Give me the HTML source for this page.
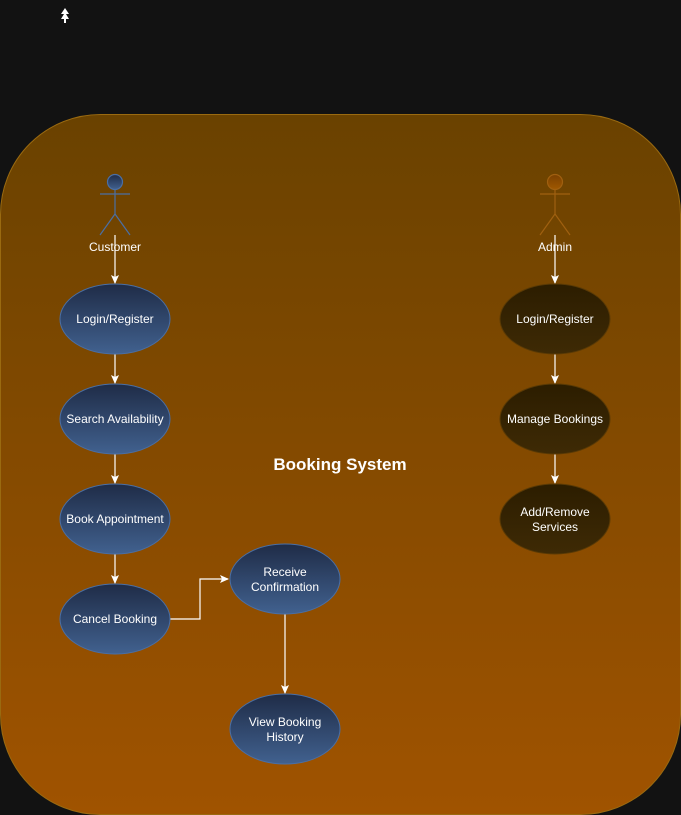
<!DOCTYPE html>
<html><head><meta charset="utf-8"><style>
html,body{margin:0;padding:0;background:#121212;overflow:hidden;width:681px;height:815px;}
svg{display:block;font-family:"Liberation Sans",Arial,sans-serif;}
</style></head><body>
<svg width="681" height="815" viewBox="0 0 681 815" xmlns="http://www.w3.org/2000/svg">
<defs>
<linearGradient id="bg" x1="0" y1="0" x2="0" y2="1"><stop offset="0" stop-color="#6a4200"/><stop offset="1" stop-color="#a05300"/></linearGradient>
<linearGradient id="bl" x1="0" y1="0" x2="0" y2="1"><stop offset="0" stop-color="#1f2c47"/><stop offset="1" stop-color="#41618f"/></linearGradient>
<linearGradient id="br" x1="0" y1="0" x2="0" y2="1"><stop offset="0" stop-color="#2c1d00"/><stop offset="1" stop-color="#3e2a05"/></linearGradient>
<linearGradient id="hb" x1="0" y1="0" x2="0" y2="1"><stop offset="0" stop-color="#1f2c47"/><stop offset="1" stop-color="#41618f"/></linearGradient>
<linearGradient id="ho" x1="0" y1="0" x2="0" y2="1"><stop offset="0" stop-color="#7a4000"/><stop offset="1" stop-color="#a05800"/></linearGradient>
<marker id="a" markerWidth="10" markerHeight="10" refX="8" refY="5" orient="auto" markerUnits="userSpaceOnUse"><path d="M0,1 L9,5 L0,9 L2,5 Z" fill="#fff"/></marker>
</defs>
<rect width="681" height="815" fill="#121212"/>
<path d="M65,8 L69,14 L66,14 L69,19 L66,19 L66,23 L64,23 L64,19 L61,19 L64,14 L61,14 Z" fill="#fff"/>
<rect x="0.5" y="114.5" width="680" height="700" rx="100" fill="url(#bg)" stroke="#9a6a10"/>
<g stroke="#4a6fa5" stroke-width="1.2" fill="none">
<circle cx="115" cy="182" r="7.5" fill="url(#hb)"/>
<line x1="100" y1="194" x2="130" y2="194"/><line x1="115" y1="190" x2="115" y2="214"/>
<line x1="115" y1="214" x2="100" y2="235"/><line x1="115" y1="214" x2="130" y2="235"/>
</g>
<g stroke="#a06010" stroke-width="1.2" fill="none">
<circle cx="555" cy="182" r="7.5" fill="url(#ho)"/>
<line x1="540" y1="194" x2="570" y2="194"/><line x1="555" y1="190" x2="555" y2="214"/>
<line x1="555" y1="214" x2="540" y2="235"/><line x1="555" y1="214" x2="570" y2="235"/>
</g>
<g stroke="#fff" stroke-width="1.2" fill="none" marker-end="url(#a)">
<line x1="115" y1="235" x2="115" y2="283"/>
<line x1="115" y1="354" x2="115" y2="383"/>
<line x1="115" y1="454" x2="115" y2="483"/>
<line x1="115" y1="554" x2="115" y2="583"/>
<polyline points="170,619 200,619 200,579 228,579"/>
<line x1="285" y1="614" x2="285" y2="693"/>
<line x1="555" y1="235" x2="555" y2="283"/>
<line x1="555" y1="354" x2="555" y2="383"/>
<line x1="555" y1="454" x2="555" y2="483"/>
</g>
<g fill="#fff" font-size="12" text-anchor="middle">
<text x="115" y="251">Customer</text>
<text x="555" y="251">Admin</text>
</g>
<text x="340" y="470" fill="#fff" font-size="17" font-weight="bold" text-anchor="middle">Booking System</text>
<g stroke="#4a6fa5" stroke-width="1" fill="url(#bl)">
<ellipse cx="115" cy="319" rx="55" ry="35"/>
<ellipse cx="115" cy="419" rx="55" ry="35"/>
<ellipse cx="115" cy="519" rx="55" ry="35"/>
<ellipse cx="115" cy="619" rx="55" ry="35"/>
<ellipse cx="285" cy="579" rx="55" ry="35"/>
<ellipse cx="285" cy="729" rx="55" ry="35"/>
</g>
<g stroke="#5a3a05" stroke-width="1" fill="url(#br)">
<ellipse cx="555" cy="319" rx="55" ry="35"/>
<ellipse cx="555" cy="419" rx="55" ry="35"/>
<ellipse cx="555" cy="519" rx="55" ry="35"/>
</g>
<g fill="#fff" font-size="12" text-anchor="middle">
<text x="115" y="323">Login/Register</text>
<text x="115" y="423">Search Availability</text>
<text x="115" y="523">Book Appointment</text>
<text x="115" y="623">Cancel Booking</text>
<text x="285" y="576">Receive</text><text x="285" y="591">Confirmation</text>
<text x="285" y="726">View Booking</text><text x="285" y="741">History</text>
<text x="555" y="323">Login/Register</text>
<text x="555" y="423">Manage Bookings</text>
<text x="555" y="516">Add/Remove</text><text x="555" y="531">Services</text>
</g>
</svg>
</body></html>
